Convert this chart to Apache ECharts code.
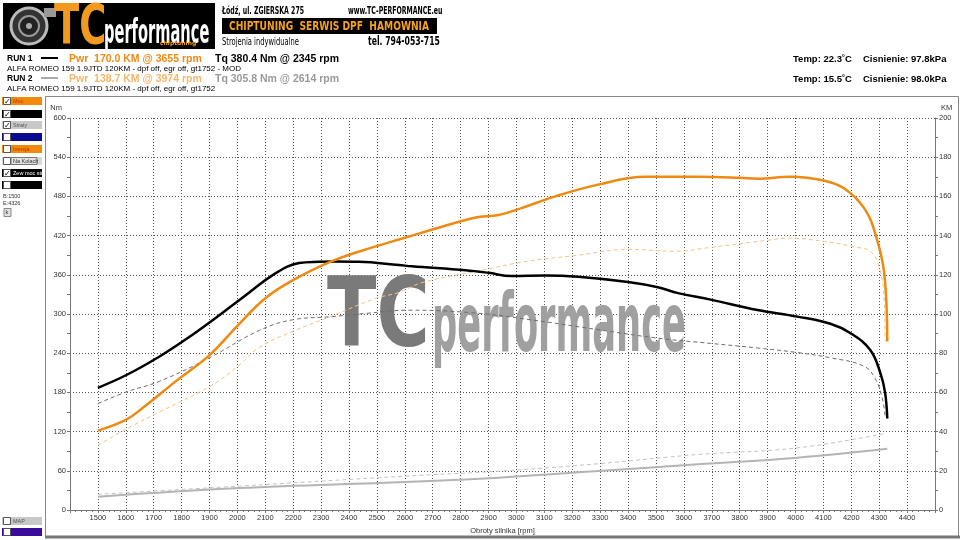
<!DOCTYPE html>
<html><head><meta charset="utf-8">
<script src="https://cdn.jsdelivr.net/npm/echarts@6/dist/echarts.min.js"></script>
<style>html,body{margin:0;padding:0;background:#fff}#c{width:960px;height:540px}</style>
</head><body><div id="c"></div>
<script>
// ---- data ----
const run1PwrRpm = [1500,1600,1660,1782,1900,2000,2100,2196,2339,2507,2579,2696,2818,2864,2936,3018,3139,3293,3461,3579,3655,3800,3864,3982,4104,4175,4246,4286,4318,4329];
const run1PwrKm  = [40.5,46,52,66,79,94,108,117,127,135,138,143,148,149.5,150.5,154,160,166,170,170,170.0,169.5,169,170,168,164,154,141,121,86];

const run1TqRpm = [1500,1604,1721,1818,1900,2018,2139,2221,2293,2345,2436,2579,2625,2818,2900,2982,3104,3221,3400,3507,3579,3696,3864,4007,4125,4196,4268,4304,4321,4329];
const run1TqNm  = [187,207,235,262,287,325,363,378,380,380.4,380,375,373,367,363,358,359,357,349,341,332,322,306,296,285,271,245,210,180,140];

const run2PwrRpm = [1500,1604,1721,1900,1996,2079,2196,2339,2496,2579,2661,2864,3043,3221,3400,3568,3696,3900,3974,4104,4221,4268,4300,4318,4321];
const run2PwrKm  = [33,41.5,50,63,72.6,83,91,99,108,111,116,122,127,130,133,132,134,137.6,138.7,137,134,132,124,107,86];

const run2TqRpm = [1500,1604,1721,1900,2079,2196,2339,2461,2614,2839,3054,3293,3507,3696,3864,4007,4125,4246,4286,4311,4321];
const run2TqNm  = [163,181,197,233,275,291,296,301,305.8,302,291,276,263,255,248,241,233,220,201,171,145];

const run1LossRpm = [1500,2007,2604,2936,3293,3650,4007,4329];
const run1LossKm  = [6.8,11.2,14.3,16.5,19.9,23.3,26.7,31.2];

const run2LossRpm = [1500,2007,2604,2936,3293,3650,4007,4320];
const run2LossKm  = [8,12.2,17.3,19.8,23.6,28.3,31.7,39];

const xTickLabels = ['1500','1600','1700','1800','1900','2000','2100','2200','2300','2400','2500','2600','2700','2800','2900','3000','3100','3200','3300','3400','3500','3600','3700','3800','3900','4000','4100','4200','4300','4400'];

const zip = (a,b) => a.map((v,i)=>[v,b[i]]);

const F = 'Liberation Sans, Arial, sans-serif';
const C = 'DejaVu Sans Condensed, DejaVu Sans, sans-serif';

function txt(x,y,t,opt){
  opt = opt||{};
  return {type:'text', x:x, y:y, scaleX:opt.sx||1, scaleY:opt.sy||1, z:opt.z||100, silent:true,
    style:{text:t, x:0, y:0, fill:opt.fill||'#000', font:opt.font||('8px '+F),
      align:opt.align||'left', textAlign:opt.align||'left',
      verticalAlign:opt.va||'middle', textVerticalAlign:opt.va||'middle'}};
}
function rect(x,y,w,h,fill,stroke,z){
  return {type:'rect', shape:{x:x,y:y,width:w,height:h}, z:z||90, silent:true,
    style:{fill:fill, stroke:stroke||null, lineWidth:1}};
}
function line(x1,y1,x2,y2,stroke,w,z){
  return {type:'line', shape:{x1:x1,y1:y1,x2:x2,y2:y2}, z:z||90, silent:true,
    style:{stroke:stroke, lineWidth:w||1}};
}
function checkbox(x,y,checked){
  const a=[rect(x,y,7,7,'#fff','#555',95)];
  if(checked) a.push(txt(x+0.5,y+4,'✓',{font:'bold 8px DejaVu Sans',fill:'#000',z:96}));
  return a;
}

const g = [];
// frame
g.push(rect(45.5,96.5,913,440,null,'#888',5));
g.push(line(45,537,960,537,'#777',3,6));

// logo
g.push(rect(3,3,212,46,'#000',null,80));
g.push({type:'circle', shape:{cx:29,cy:26,r:18}, z:81, silent:true, style:{fill:'#333',stroke:'#bbb',lineWidth:3}});
g.push({type:'circle', shape:{cx:29,cy:26,r:10}, z:82, silent:true, style:{fill:'#222',stroke:'#999',lineWidth:2}});
g.push({type:'circle', shape:{cx:29,cy:26,r:3}, z:83, silent:true, style:{fill:'#aaa'}});
g.push(rect(44,8,12,9,'#999',null,81));
g.push(txt(54,56,'TC',{font:'bold 56px DejaVu Sans',fill:'#F29A1F',va:'bottom',sx:0.66,z:85}));
g.push(txt(104,51,'performance',{font:'bold 34px DejaVu Sans',fill:'#fff',va:'bottom',sx:0.43,z:85}));
g.push(txt(160,46,'chiptuning',{font:'bold 6px DejaVu Sans',fill:'#F29A1F',va:'bottom',z:86}));
g.push(rect(150,42,62,6,'#000',null,84));

// header texts
g.push(txt(222,11,'Łódź, ul. ZGIERSKA 275',{font:'bold 10px '+C,sx:0.69}));
g.push(txt(348,11,'www.TC-PERFORMANCE.eu',{font:'bold 10px '+C,sx:0.69}));
g.push(rect(222,18,215,16,'#000',null,80));
g.push(txt(329,26.5,'CHIPTUNING  SERWIS DPF  HAMOWNIA',{font:'bold 13px '+C,fill:'#F7A21B',align:'center',sx:0.78,z:85}));
g.push(txt(222,42,'Strojenia indywidualne',{font:'10px '+C,sx:0.75}));
g.push(txt(368,42,'tel. 794-053-715',{font:'bold 13px '+C,sx:0.66}));

// run info
g.push(txt(7,59,'RUN 1',{font:'bold 8.5px '+F}));
g.push(line(41,58,58,58,'#000',2));
g.push(txt(69,59,'Pwr  170.0 KM @ 3655 rpm',{font:'bold 10.5px '+F,fill:'#EF8A12'}));
g.push(txt(215,59,'Tq 380.4 Nm @ 2345 rpm',{font:'bold 10.5px '+F,fill:'#000'}));
g.push(txt(7,69,'ALFA ROMEO 159 1.9JTD 120KM - dpf off, egr off, gt1752 - MOD',{font:'8px '+F}));
g.push(txt(7,79,'RUN 2',{font:'bold 8.5px '+F}));
g.push(line(41,78,58,78,'#555',1));
g.push(txt(69,79,'Pwr  138.7 KM @ 3974 rpm',{font:'bold 10.5px '+F,fill:'#F5B667'}));
g.push(txt(215,79,'Tq 305.8 Nm @ 2614 rpm',{font:'bold 10.5px '+F,fill:'#999'}));
g.push(txt(7,88.5,'ALFA ROMEO 159 1.9JTD 120KM - dpf off, egr off, gt1752',{font:'8px '+F}));
g.push(txt(793,59,'Temp: 22.3˚C',{font:'bold 9.5px '+F}));
g.push(txt(863,59,'Cisnienie: 97.8kPa',{font:'bold 9.5px '+F}));
g.push(txt(793,79,'Temp: 15.5˚C',{font:'bold 9.5px '+F}));
g.push(txt(863,79,'Cisnienie: 98.0kPa',{font:'bold 9.5px '+F}));

// left panel
const boxes = [
  [97,'#F08A0A','Moc',true,'#C0300A'],
  [110,'#000','',true,'#fff'],
  [121,'#C8C8C8','Straty',true,'#555'],
  [133,'#0A0A90','',false,'#fff'],
  [145,'#F08A0A','Inercja',false,'#C0300A'],
  [169,'#000','Zew moc str',true,'#fff'],
  [181,'#000','',false,'#fff'],
  [517,'#C8C8C8','MAP',false,'#555'],
  [528,'#3A0A9A','',false,'#fff']
];
boxes.forEach(b=>{
  g.push(rect(2,b[0],40,8,b[1],null,90));
  checkbox(3.5,b[0]+0.5,b[3]).forEach(e=>g.push(e));
  if(b[2]) g.push(txt(13,b[0]+4,b[2],{font:'5.5px '+F,fill:b[4],z:96}));
});
g.push(rect(2,157,40,8,'#D8D8D8',null,90));
checkbox(3.5,157.5,false).forEach(e=>g.push(e));
g.push(rect(11,157.5,26,7,'#E4E4E4','#777',95));
g.push(txt(13,161,'Na Kolach',{font:'5.5px '+F,fill:'#333',z:96}));
g.push(txt(3,196,'B:1500',{font:'5.5px '+F,fill:'#333'}));
g.push(txt(3,203.5,'E:4326',{font:'5.5px '+F,fill:'#333'}));
g.push(rect(4,208.5,7,8,'#E0E0E0','#888',95));
g.push(txt(5.5,212.5,'k',{font:'5.5px '+F,fill:'#333',z:96}));

// watermark
g.push(txt(327,369,'TC',{font:'bold 96px DejaVu Sans',fill:'#7A7A7A',va:'bottom',sx:0.755,z:1}));
g.push(txt(432,371,'performance',{font:'bold 82px DejaVu Sans',fill:'#A0A0A0',va:'bottom',sx:0.43,z:1}));

const dotted = {color:'#555', type:[1,2], width:1};

const chart = echarts.init(document.getElementById('c'), null, {renderer:'canvas'});
chart.setOption({
  animation:false,
  backgroundColor:'#fff',
  grid:{left:70,right:25,top:118,bottom:29,containLabel:false},
  graphic:g,
  xAxis:{type:'value',min:1400,max:4500,interval:100,
    name:'Obroty silnika [rpm]',nameLocation:'middle',nameGap:17,
    nameTextStyle:{fontFamily:F,fontSize:7.5,color:'#333'},
    axisLine:{lineStyle:{color:'#777'}},
    axisTick:{show:true,length:3,lineStyle:{color:'#777'}},
    minorTick:{show:true,splitNumber:5,length:2,lineStyle:{color:'#777'}},
    axisLabel:{fontFamily:F,fontSize:7.5,color:'#333',margin:4,
      formatter:v=>xTickLabels.indexOf(String(v))>=0?String(v):''},
    splitLine:{show:true,lineStyle:dotted}},
  yAxis:[
    {type:'value',min:0,max:600,interval:60,name:'Nm',nameLocation:'end',nameGap:6,
     nameTextStyle:{fontFamily:F,fontSize:7.5,color:'#333',align:'right',padding:[0,8,0,0]},
     axisLine:{show:true,lineStyle:{color:'#777'}},
     axisTick:{show:true,length:3,lineStyle:{color:'#777'}},
     minorTick:{show:true,splitNumber:2,length:3,lineStyle:{color:'#777'}},
     axisLabel:{fontFamily:F,fontSize:7.5,color:'#333',margin:4},
     splitLine:{show:true,lineStyle:dotted}},
    {type:'value',min:0,max:200,interval:20,name:'KM',nameLocation:'end',nameGap:6,position:'right',
     nameTextStyle:{fontFamily:F,fontSize:7.5,color:'#333',align:'left',padding:[0,0,0,6]},
     axisLine:{show:true,lineStyle:{color:'#777'}},
     axisTick:{show:true,length:3,lineStyle:{color:'#777'}},
     minorTick:{show:true,splitNumber:2,length:3,lineStyle:{color:'#777'}},
     axisLabel:{fontFamily:F,fontSize:7.5,color:'#333',margin:4},
     splitLine:{show:false}}
  ],
  series:[
    {name:'RUN1 straty',type:'line',yAxisIndex:1,data:zip(run1LossRpm,run1LossKm),smooth:0.4,showSymbol:false,
     lineStyle:{color:'#B4B4B4',width:2},z:3},
    {name:'RUN2 straty',type:'line',yAxisIndex:1,data:zip(run2LossRpm,run2LossKm),smooth:0.4,showSymbol:false,
     lineStyle:{color:'#C4C4C4',width:1,type:[4,3]},z:3},
    {name:'RUN2 Tq',type:'line',yAxisIndex:0,data:zip(run2TqRpm,run2TqNm),smooth:0.4,showSymbol:false,
     lineStyle:{color:'#6E6E6E',width:1,type:[4,3]},z:4},
    {name:'RUN2 Pwr',type:'line',yAxisIndex:1,data:zip(run2PwrRpm,run2PwrKm),smooth:0.4,showSymbol:false,
     lineStyle:{color:'#F2C387',width:1,type:[4,3]},z:4},
    {name:'RUN1 Tq',type:'line',yAxisIndex:0,data:zip(run1TqRpm,run1TqNm),smooth:0.4,showSymbol:false,
     lineStyle:{color:'#000',width:2.5},z:5},
    {name:'RUN1 Pwr',type:'line',yAxisIndex:1,data:zip(run1PwrRpm,run1PwrKm),smooth:0.4,showSymbol:false,
     lineStyle:{color:'#EE8A12',width:2.5},z:6}
  ]
});
</script></body></html>
